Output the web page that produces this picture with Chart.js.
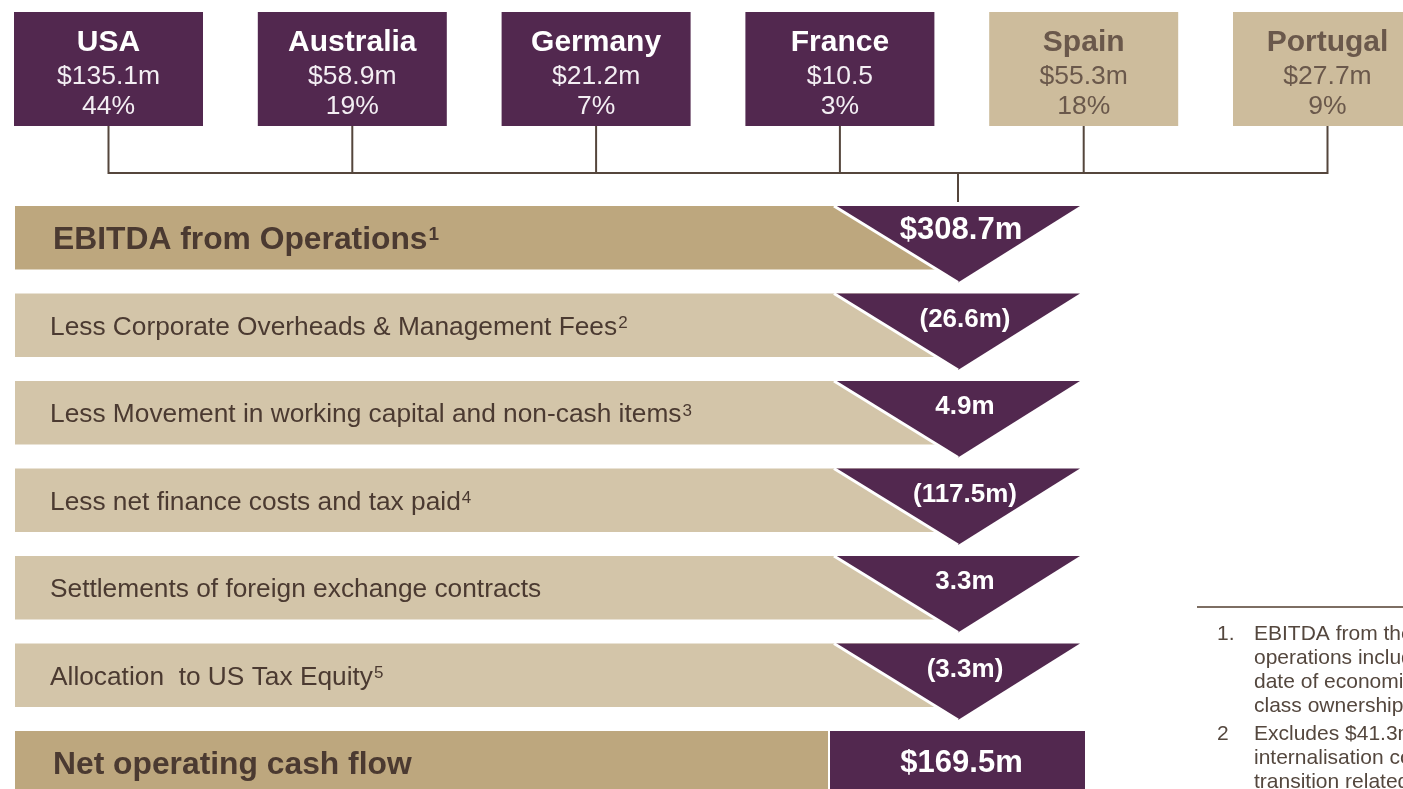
<!DOCTYPE html>
<html lang="en">
<head>
<meta charset="UTF-8">
<title>Operating cash flow</title>
<script src="https://cdn.jsdelivr.net/npm/chart.js"></script>
<style>
  html, body { margin: 0; padding: 0; background: #fff; overflow: hidden; }
  #flowChart { display: block; }
</style>
</head>
<body>
<canvas id="flowChart" width="1403" height="830"></canvas>
<script>
// Country EBITDA boxes
const countries = ['USA', 'Australia', 'Germany', 'France', 'Spain', 'Portugal'];
const countryEbitda = ['$135.1m', '$58.9m', '$21.2m', '$10.5', '$55.3m', '$27.7m'];
const countryShare = [44, 19, 7, 3, 18, 9];

// Cash flow rows (first and last are totals)
const rowLabels = [
  'EBITDA from Operations',
  'Less Corporate Overheads & Management Fees',
  'Less Movement in working capital and non-cash items',
  'Less net finance costs and tax paid',
  'Settlements of foreign exchange contracts',
  'Allocation  to US Tax Equity',
  'Net operating cash flow'
];
const rowNotes = ['1', '2', '3', '4', '', '5', ''];
const rowValues = [308.7, -26.6, 4.9, -117.5, 3.3, -3.3, 169.5];

// Footnotes (run off the right edge of the slide)
const footnotes = [
  ['1.', ['EBITDA from the', 'operations includes', 'date of economic', 'class ownership']],
  ['2', ['Excludes $41.3m', 'internalisation costs', 'transition related']]
];

// colours and layout
const PURPLE = '#52284f', GOLD = '#bda77e', TAN = '#d3c5a9', BOX_TAN = '#cdbc9c';
const INK = '#4b3a31', LINE = '#55463c', FOOT_INK = '#54473e';
const FONT = '"Liberation Sans", Arial, sans-serif';
const last = rowLabels.length - 1;
const BAR_PCT = 0.726;
const BAR_LEFT = 15, BAR_RIGHT = 940, NET_BAR_RIGHT = 828, VALUE_LEFT = 830, VALUE_RIGHT = 1085;
const TRI_LEFT = 834, TRI_RIGHT = 1080, TRI_TIP = 958, TRI_DROP = 13;
const BOX_LEFT = 14, BOX_STEP = 243.8, BOX_W = 189, BOX_TOP = 12, BOX_H = 114, JOIN_Y = 173, JOIN_END = 202;

function fmtValue(v, i) {
  if (i === 0 || i === last) return '$' + v.toFixed(1) + 'm';
  return v < 0 ? '(' + Math.abs(v).toFixed(1) + 'm)' : v.toFixed(1) + 'm';
}

// draw text with its cap height centred on cy
function text(ctx, str, x, cy, size, bold, color, align) {
  ctx.font = (bold ? 'bold ' : '') + size + 'px ' + FONT;
  ctx.fillStyle = color;
  ctx.textAlign = align || 'left';
  ctx.textBaseline = 'alphabetic';
  ctx.fillText(str, x, cy + size * 0.358);
  return ctx.measureText(str).width;
}

const flowPlugin = {
  id: 'flow',
  afterDatasetsDraw(chart) {
    const { ctx, scales: { x, y } } = chart;
    const pitch = y.getPixelForValue(1) - y.getPixelForValue(0);
    const barH = pitch * BAR_PCT;
    ctx.save();

    // country boxes
    const centres = [];
    countries.forEach((name, i) => {
      const left = x.getPixelForValue(BOX_LEFT + i * BOX_STEP);
      const cx = left + BOX_W / 2;
      centres.push(cx);
      const purple = i < 4;
      ctx.fillStyle = purple ? PURPLE : BOX_TAN;
      ctx.fillRect(left, BOX_TOP, BOX_W, BOX_H);
      const c = purple ? '#ffffff' : '#6a584b';
      text(ctx, name, cx, 40, 30, true, c, 'center');
      text(ctx, countryEbitda[i], cx, 75, 26.5, false, purple ? '#f3eef3' : c, 'center');
      text(ctx, countryShare[i] + '%', cx, 105, 26.5, false, purple ? '#f3eef3' : c, 'center');
    });

    // connectors
    ctx.strokeStyle = LINE;
    ctx.lineWidth = 2;
    ctx.beginPath();
    centres.forEach(cx => { ctx.moveTo(cx, BOX_TOP + BOX_H); ctx.lineTo(cx, JOIN_Y); });
    ctx.moveTo(centres[0] - 1, JOIN_Y);
    ctx.lineTo(centres[centres.length - 1] + 1, JOIN_Y);
    ctx.moveTo(TRI_TIP, JOIN_Y);
    ctx.lineTo(TRI_TIP, JOIN_END);
    ctx.stroke();

    rowLabels.forEach((label, i) => {
      const cy = y.getPixelForValue(i);
      const top = cy - barH / 2;
      const total = i === 0 || i === last;

      // row label and note marker
      const lx = total ? 53 : 50;
      const size = total ? 31.8 : 26.3;
      const w = text(ctx, label, lx, cy, size, total, INK);
      if (rowNotes[i]) {
        const sup = total ? 19 : 17;
        const capTop = cy - size * 0.358;
        ctx.font = (total ? 'bold ' : '') + sup + 'px ' + FONT;
        ctx.fillStyle = INK;
        ctx.textAlign = 'left';
        ctx.fillText(rowNotes[i], lx + w + 1, capTop + sup * 0.716);
      }

      if (i === last) {
        text(ctx, fmtValue(rowValues[i], i), (VALUE_LEFT + VALUE_RIGHT) / 2 + 4, cy - 2, 31, true, '#ffffff', 'center');
        return;
      }

      // down arrow
      const tip = top + barH + TRI_DROP;
      ctx.beginPath();
      ctx.moveTo(x.getPixelForValue(TRI_LEFT), top);
      ctx.lineTo(x.getPixelForValue(TRI_RIGHT), top);
      ctx.lineTo(x.getPixelForValue(TRI_TIP), tip);
      ctx.closePath();
      ctx.fillStyle = PURPLE;
      ctx.fill();
      ctx.beginPath();
      ctx.moveTo(x.getPixelForValue(TRI_LEFT), top);
      ctx.lineTo(x.getPixelForValue(TRI_TIP), tip);
      ctx.strokeStyle = '#ffffff';
      ctx.lineWidth = 3;
      ctx.stroke();

      if (i === 0) text(ctx, fmtValue(rowValues[i], i), 961, top + 22, 31, true, '#ffffff', 'center');
      else text(ctx, fmtValue(rowValues[i], i), 965, top + 24, 26, true, '#ffffff', 'center');
    });

    // footnotes
    ctx.strokeStyle = '#7d6e63';
    ctx.lineWidth = 2;
    ctx.beginPath();
    ctx.moveTo(1197, 607);
    ctx.lineTo(1403, 607);
    ctx.stroke();
    let fy = 632;
    footnotes.forEach(([num, lines], n) => {
      if (n > 0) fy += 4;
      text(ctx, num, 1217, fy, 21, false, FOOT_INK);
      lines.forEach(line => {
        text(ctx, line, 1254, fy, 21, false, FOOT_INK);
        fy += 24;
      });
    });
    ctx.restore();
  }
};

new Chart(document.getElementById('flowChart'), {
  type: 'bar',
  data: {
    labels: rowLabels,
    datasets: [
      {
        label: 'Rows',
        data: rowLabels.map((_, i) => [BAR_LEFT, i === last ? NET_BAR_RIGHT : BAR_RIGHT]),
        backgroundColor: rowLabels.map((_, i) => (i === 0 || i === last) ? GOLD : TAN),
        barPercentage: BAR_PCT,
        categoryPercentage: 1
      },
      {
        label: 'Net',
        data: rowLabels.map((_, i) => i === last ? [VALUE_LEFT, VALUE_RIGHT] : null),
        backgroundColor: PURPLE,
        barPercentage: BAR_PCT,
        categoryPercentage: 1
      }
    ]
  },
  options: {
    indexAxis: 'y',
    responsive: false,
    animation: false,
    datasets: { bar: { grouped: false } },
    layout: { padding: { top: 194, bottom: 23.5, left: 0, right: 0 } },
    scales: {
      x: { type: 'linear', min: 0, max: 1403, display: false },
      y: { display: false }
    },
    plugins: { legend: { display: false }, tooltip: { enabled: false } }
  },
  plugins: [flowPlugin]
});
</script>
</body>
</html>
